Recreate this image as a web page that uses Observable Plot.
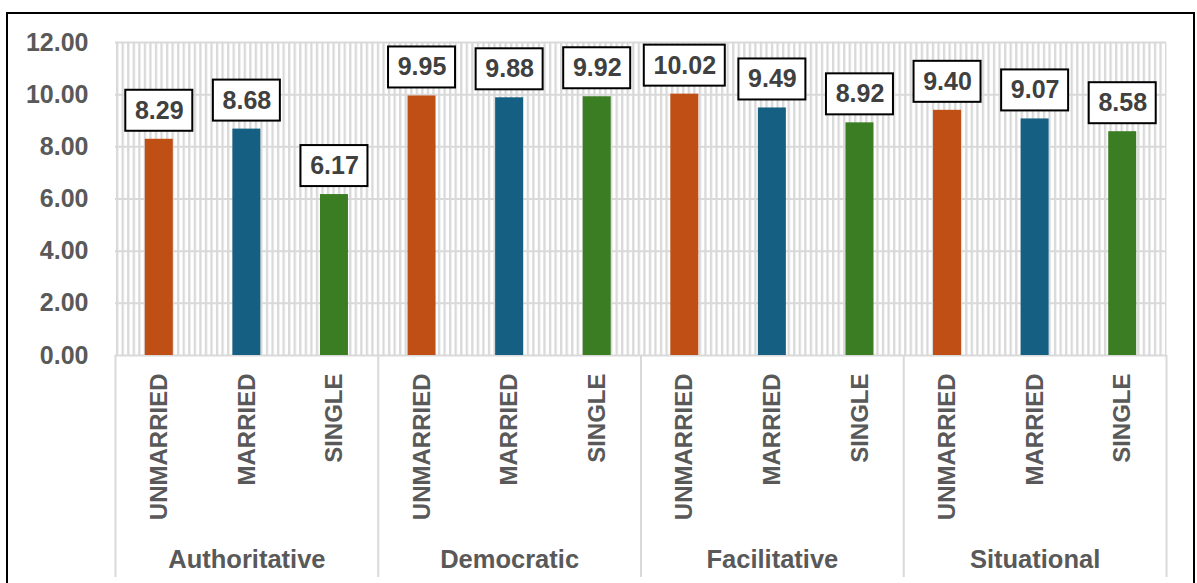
<!DOCTYPE html>
<html>
<head>
<meta charset="utf-8">
<script src="https://cdn.jsdelivr.net/npm/d3@7"></script>
<script src="https://cdn.jsdelivr.net/npm/@observablehq/plot@0.6"></script>
<style>
  html, body { margin: 0; padding: 0; background: #fff; }
  #wrap { position: relative; width: 1197px; height: 583px; overflow: hidden; }
  #wrap svg { position: absolute; left: 0; top: 0; }
  #border { position: absolute; left: 6px; top: 12px; width: 1189px; height: 620px; border: 2px solid #000; box-sizing: border-box; pointer-events: none; }
</style>
</head>
<body>
<div id="wrap"><div id="border"></div></div>
<script>
// ---- data ----
const groups = ["Authoritative", "Democratic", "Facilitative", "Situational"];
const statuses = ["UNMARRIED", "MARRIED", "SINGLE"];
const unmarried = [8.29, 9.95, 10.02, 9.40];
const married = [8.68, 9.88, 9.49, 9.07];
const single = [6.17, 9.92, 8.92, 8.58];
const yTicks = [0, 2, 4, 6, 8, 10, 12];
const barColors = ["#C04F15", "#156082", "#3A7D22"];

const seriesValues = [unmarried, married, single];
const rows = [];
groups.forEach((g, gi) => {
  statuses.forEach((s, si) => {
    rows.push({group: g, status: s, key: g + "|" + s, value: seriesValues[si][gi]});
  });
});
const keys = rows.map(d => d.key);
const fmt = d3.format(".2f");

// ---- layout ----
const W = 1197, H = 583;
const mL = 115, mR = 31, mT = 42, mB = 228;
const slot = (W - mL - mR) / keys.length;
const barW = 28;
const font = "'Liberation Sans', Arial, sans-serif";
const gray = "#595959";
const gridC = "#d9d9d9";

const shortLabels = rows.filter(d => fmt(d.value).length === 4);
const longLabels = rows.filter(d => fmt(d.value).length === 5);
const boxShort = 67, boxLong = 81, boxH = 41, gap = 8;

const svg = Plot.plot({
  width: W,
  height: H,
  marginLeft: mL,
  marginRight: mR,
  marginTop: mT,
  marginBottom: mB,
  style: {fontFamily: font, background: "transparent", overflow: "visible"},
  x: {domain: keys, padding: 0, round: false, axis: null},
  y: {domain: [0, 12], axis: null},
  color: {domain: statuses, range: barColors},
  marks: [
    Plot.frame({fill: "url(#vstripes)", stroke: "none"}),
    Plot.gridY(yTicks, {stroke: gridC, strokeOpacity: 1, strokeWidth: 2}),
    Plot.axisY(yTicks, {
      tickSize: 0, tickPadding: 27, tickFormat: fmt, label: null,
      fontSize: 25, fontWeight: "bold", fill: gray
    }),
    Plot.barY(rows, {x: "key", y: "value", fill: "status", insetLeft: (slot - barW) / 2, insetRight: (slot - barW) / 2}),
    // value label boxes
    Plot.rect(shortLabels, {x: "key", y1: "value", y2: "value", fill: "white", stroke: "#000", strokeWidth: 2,
      insetLeft: (slot - boxShort) / 2, insetRight: (slot - boxShort) / 2, insetTop: -(gap + boxH), insetBottom: gap}),
    Plot.rect(longLabels, {x: "key", y1: "value", y2: "value", fill: "white", stroke: "#000", strokeWidth: 2,
      insetLeft: (slot - boxLong) / 2, insetRight: (slot - boxLong) / 2, insetTop: -(gap + boxH), insetBottom: gap}),
    Plot.text(rows, {x: "key", y: "value", text: d => fmt(d.value), dy: -(gap + boxH / 2),
      fontSize: 25, fontWeight: "bold", fill: "#404040", lineAnchor: "middle"}),
    // category separators
    Plot.axisX(keys.filter(k => k.endsWith("|UNMARRIED")), {
      tickSize: 222, text: null, label: null, stroke: gridC, strokeWidth: 2, dx: -slot / 2
    }),
    Plot.axisX(keys.slice(-1), {
      tickSize: 222, text: null, label: null, stroke: gridC, strokeWidth: 2, dx: slot / 2
    }),
    // rotated status labels
    Plot.text(rows, {x: "key", text: "status", frameAnchor: "bottom", rotate: -90, textAnchor: "end",
      lineAnchor: "middle", dy: 18, fontSize: 24, fontWeight: "bold", fill: gray}),
    // group labels
    Plot.text(groups, {x: g => g + "|MARRIED", text: d => d, frameAnchor: "bottom", dy: 204,
      lineAnchor: "middle", fontSize: 25.5, fontWeight: "bold", fill: gray})
  ]
});

const defs = d3.select(svg).insert("defs", ":first-child");
const pat = defs.append("pattern")
  .attr("id", "vstripes")
  .attr("patternUnits", "userSpaceOnUse")
  .attr("x", mL + 0.5).attr("y", 0)
  .attr("width", 5.55).attr("height", 10);
pat.append("rect").attr("x", 0).attr("y", 0).attr("width", 5.55).attr("height", 10).attr("fill", "#fff");
pat.append("rect").attr("x", 0).attr("y", 0).attr("width", 2.3).attr("height", 10).attr("fill", gridC);

const wrap = document.getElementById("wrap");
wrap.insertBefore(svg, wrap.firstChild);
</script>
</body>
</html>
